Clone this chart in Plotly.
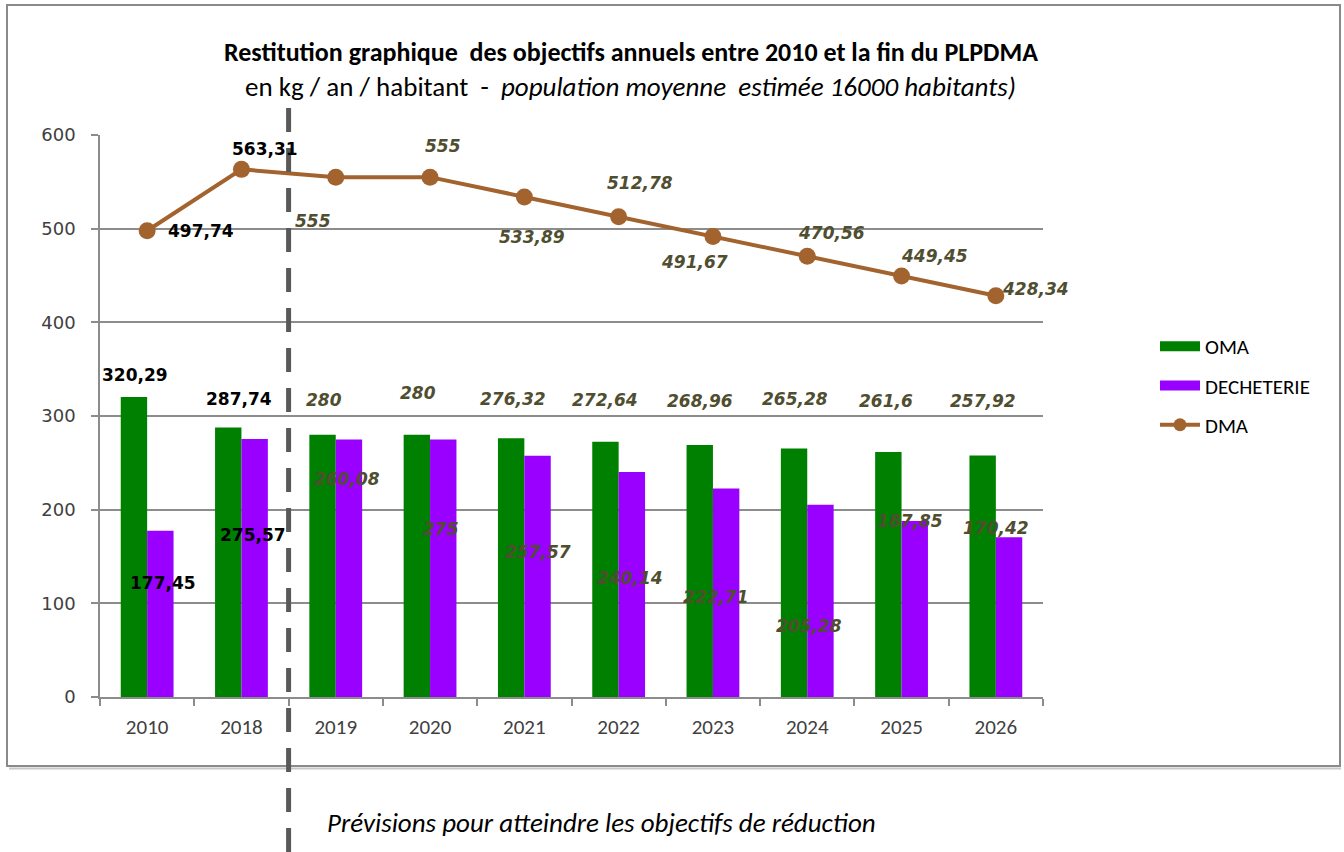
import plotly.graph_objects as go

# ---------------- data ----------------
years = ["2010", "2018", "2019", "2020", "2021", "2022", "2023", "2024", "2025", "2026"]
oma = [320.29, 287.74, 280, 280, 276.32, 272.64, 268.96, 265.28, 261.6, 257.92]
decheterie = [177.45, 275.57, 275, 275, 257.57, 240.14, 222.71, 205.28, 187.85, 170.42]
dma = [497.74, 563.31, 555, 555, 533.89, 512.78, 491.67, 470.56, 449.45, 428.34]

oma_labels = ["320,29", "287,74", "280", "280", "276,32", "272,64", "268,96", "265,28", "261,6", "257,92"]
dech_labels = ["177,45", "275,57", "260,08", "275", "257,57", "240,14", "222,71", "205,28", "187,85", "170,42"]
dma_labels = ["497,74", "563,31", "555", "555", "533,89", "512,78", "491,67", "470,56", "449,45", "428,34"]

n_actual = 2  # 2010 and 2018 are observed values, the rest are forecasts

# ---------------- style / layout ----------------
W, H = 1344, 852
ML, MR, MT, MB = 100, 301, 135, 155
PW, PH = W - ML - MR, H - MT - MB
BARGAP = 0.44
cat_w = PW / len(years)
bar_w = cat_w * (1 - BARGAP) / 2

GREEN = "#008000"
PURPLE = "#9900FF"
BROWN = "#A3632E"
OLIVE = "#4F4E30"
GRID = "#8C8C8C"
TXT = "#404040"
CAL = "Carlito, Lato, 'Open Sans', sans-serif"
VER = "DejaVu Sans, Verdana, sans-serif"

# label offsets (px) relative to the mark: (dx, dy up)
dma_off = [(54, 0), (24, 20), (-23, -44), (13, 31), (8, -40), (21, 34), (-18, -26), (24, 23), (33, 20), (40, 7)]
oma_off = [(1, 22), (11, 28), (1, 35), (1, 42), (2, 39), (0, 42), (0, 44), (1, 50), (-2, 51), (0, 54)]
dech_off = [(3, -52), (-2, -96), (-2, -40), (-2, -90), (0, -96), (-2, -106), (-10, -109), (-11, -121), (-5, 0), (-13, 9)]

fig = go.Figure()
fig.add_trace(go.Bar(x=years, y=oma, name="OMA", marker=dict(color=GREEN, line=dict(width=0)),
                     legendgroup="a", showlegend=False))
fig.add_trace(go.Bar(x=years, y=decheterie, name="DECHETERIE", marker=dict(color=PURPLE, line=dict(width=0)),
                     legendgroup="b", showlegend=False))
fig.add_trace(go.Scatter(x=years, y=dma, name="DMA", mode="lines+markers",
                         line=dict(color=BROWN, width=4), marker=dict(color=BROWN, size=17),
                         legendgroup="c", showlegend=False))
# legend keys (wide colour bands like the original spreadsheet legend)
fig.add_trace(go.Scatter(x=[None], y=[None], name="OMA", mode="lines",
                         line=dict(color=GREEN, width=10), legendgroup="a"))
fig.add_trace(go.Scatter(x=[None], y=[None], name="DECHETERIE", mode="lines",
                         line=dict(color=PURPLE, width=10), legendgroup="b"))
fig.add_trace(go.Scatter(x=[None], y=[None], name="DMA", mode="lines+markers",
                         line=dict(color=BROWN, width=4), marker=dict(color=BROWN, size=13),
                         legendgroup="c"))

annotations = []


def add_labels(values, labels, offs, base_dx):
    for i, (v, t, (dx, dy)) in enumerate(zip(values, labels, offs)):
        if i < n_actual:
            txt, col = "<b>%s</b>" % t, "#000000"
        else:
            txt, col = "<b><i>%s</i></b>" % t, OLIVE
        annotations.append(dict(x=i, y=v, xref="x", yref="y", text=txt, showarrow=False,
                                xshift=base_dx + dx, yshift=dy,
                                font=dict(family=VER, size=17, color=col)))


add_labels(dma, dma_labels, dma_off, 0)
add_labels(oma, oma_labels, oma_off, -bar_w / 2)
add_labels(decheterie, dech_labels, dech_off, bar_w / 2)


def px_x(px):
    return (px - ML) / PW


def px_y(py):
    return (H - MB - py) / PH


# titles
annotations.append(dict(x=px_x(631), y=px_y(52), xref="paper", yref="paper", showarrow=False,
                        xanchor="center", yanchor="middle",
                        text="<b>Restitution graphique  des objectifs annuels entre 2010 et la fin du PLPDMA</b>",
                        font=dict(family=CAL, size=26, color="#000000")))
annotations.append(dict(x=px_x(630), y=px_y(86), xref="paper", yref="paper", showarrow=False,
                        xanchor="center", yanchor="middle",
                        text="en kg / an / habitant  -  <i>population moyenne  estimée 16000 habitants)</i>",
                        font=dict(family=CAL, size=27, color="#000000")))
annotations.append(dict(x=px_x(601), y=px_y(822), xref="paper", yref="paper", showarrow=False,
                        xanchor="center", yanchor="middle",
                        text="<i>Prévisions pour atteindre les objectifs de réduction</i>",
                        font=dict(family=CAL, size=27, color="#000000")))

shapes = [
    # outer chart frame
    dict(type="rect", xref="paper", yref="paper", x0=px_x(7), x1=px_x(1340), y0=px_y(766), y1=px_y(5),
         line=dict(color="#8A8A8A", width=2), layer="below"),
    dict(type="line", xref="paper", yref="paper", x0=px_x(9), x1=px_x(1341), y0=px_y(768.5), y1=px_y(768.5),
         line=dict(color="#C8C8C8", width=2), layer="below"),
    # dashed separator between observed and forecast years
    dict(type="line", xref="paper", yref="paper", x0=n_actual / len(years), x1=n_actual / len(years),
         y0=px_y(852), y1=px_y(100), line=dict(color="#595959", width=5, dash="24px,16px"), layer="above"),
]

fig.update_layout(
    width=W, height=H,
    margin=dict(l=ML, r=MR, t=MT, b=MB, pad=0),
    paper_bgcolor="white", plot_bgcolor="white",
    barmode="group", bargap=BARGAP, bargroupgap=0,
    showlegend=True,
    legend=dict(x=px_x(1155), y=px_y(326), xanchor="left", yanchor="top",
                font=dict(family=CAL, size=21, color="#000000"),
                traceorder="grouped", tracegroupgap=9, itemwidth=40, bgcolor="rgba(0,0,0,0)"),
    annotations=annotations,
    shapes=shapes,
    xaxis=dict(type="category", range=[-0.5, len(years) - 0.5], autorange=False,
               showline=True, linecolor=GRID, linewidth=1.5,
               ticks="outside", tickson="boundaries", ticklen=7, tickcolor=GRID, tickwidth=1.5,
               tickfont=dict(family=CAL, size=21, color=TXT), showgrid=False, ticklabelstandoff=10),
    yaxis=dict(range=[0, 600], autorange=False, dtick=100, showline=True, linecolor=GRID, linewidth=1.5,
               ticks="outside", ticklen=7, tickcolor=GRID, tickwidth=1.5,
               showgrid=True, gridcolor=GRID, gridwidth=1.5, zeroline=False,
               tickfont=dict(family=VER, size=18, color=TXT), ticklabelstandoff=12),
)

fig.write_html("out.html", config={"displayModeBar": False},
               post_script="document.body.style.margin='0';document.body.style.overflow='hidden';")
